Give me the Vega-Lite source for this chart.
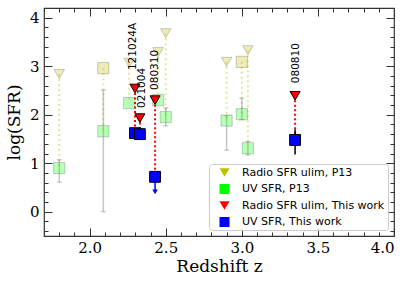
{
  "$schema": "https://vega.github.io/schema/vega-lite/v6.json",
  "autosize": {"type": "none"},
  "width": 350,
  "height": 228,
  "padding": {"left": 44, "top": 8, "right": 21, "bottom": 49},
  "config": {
    "view": {"stroke": "#333", "strokeWidth": 1.2},
    "axis": {"grid": false, "domain": false, "tickColor": "#333", "tickWidth": 1, "labelColor": "#000", "titleColor": "#000"},
    "legend": {
      "orient": "bottom-right", "offset": 6, "title": null,
      "labelFont": "DejaVu Sans", "labelFontSize": 11, "labelColor": "#000",
      "symbolOpacity": 1, "symbolStrokeWidth": 0, "symbolSize": 100,
      "padding": 3, "symbolOffset": 7, "labelOffset": 12, "rowPadding": 4.5,
      "fillColor": "rgba(255,255,255,0.8)", "strokeColor": "#cccccc", "cornerRadius": 3
    }
  },
  "datasets": {
    "p13": [
      {"z": 1.80, "radio": 2.84, "uv": 0.90, "lo": 0.61, "hi": 1.07, "det": false},
      {"z": 2.09, "radio": 2.96, "uv": 1.66, "lo": 0.0, "hi": 2.51, "det": true},
      {"z": 2.26, "radio": 3.07, "uv": 2.24, "det": false},
      {"z": 2.45, "radio": 3.29, "uv": 2.30, "det": false},
      {"z": 2.50, "radio": 3.68, "uv": 1.95, "lo": 1.77, "hi": 2.14, "det": false},
      {"z": 2.90, "radio": 3.09, "uv": 1.88, "lo": 1.27, "hi": 1.98, "det": false},
      {"z": 3.00, "radio": 3.09, "uv": 2.01, "lo": 1.90, "hi": 2.34, "det": true},
      {"z": 3.04, "radio": 3.33, "uv": 1.31, "lo": 1.17, "hi": 1.45, "det": false}
    ],
    "grb": [
      {"name": "121024A", "z": 2.298, "radio": 2.54, "uv": 1.62, "lx": 2.285, "ly": 2.92},
      {"name": "021004", "z": 2.33, "radio": 1.93, "uv": 1.60, "lx": 2.345, "ly": 2.14},
      {"name": "080310", "z": 2.43, "radio": 2.30, "uv": 0.72, "uvlim": 0.41, "lx": 2.427, "ly": 2.51},
      {"name": "080810", "z": 3.35, "radio": 2.39, "uv": 1.48, "lo": 1.18, "hi": 1.70, "lx": 3.355, "ly": 2.65}
    ]
  },
  "resolve": {"axis": {"x": "independent", "y": "independent"}},
  "layer": [
    {
      "data": {"name": "p13"},
      "mark": {"type": "rule", "color": "#bfbf00", "opacity": 0.4, "strokeWidth": 2, "strokeDash": [2, 3]},
      "encoding": {
        "x": {"field": "z", "type": "quantitative", "scale": {"domain": [1.7, 4.0], "nice": false, "zero": false},
          "axis": {"orient": "bottom", "values": [2, 2.5, 3, 3.5, 4], "format": ".1f", "ticks": false, "labelPadding": 4,
            "labelFont": "DejaVu Serif", "labelFontSize": 15, "title": "Redshift z", "titleFont": "DejaVu Serif",
            "titleFontSize": 17, "titleFontWeight": "normal", "titlePadding": 3}},
        "y": {"field": "radio", "type": "quantitative", "scale": {"domain": [-0.5, 4.2], "nice": false, "zero": false},
          "axis": {"orient": "left", "values": [0, 1, 2, 3, 4], "format": "d", "ticks": false, "labelPadding": 5,
            "labelFont": "DejaVu Serif", "labelFontSize": 15, "title": "log(SFR)", "titleFont": "DejaVu Serif",
            "titleFontSize": 17, "titleFontWeight": "normal", "titlePadding": 6}},
        "y2": {"field": "uv"}
      }
    },
    {
      "data": {"name": "p13"},
      "transform": [{"filter": "isValid(datum.lo)"}],
      "mark": {"type": "rule", "color": "#808080", "opacity": 0.45, "strokeWidth": 1.5},
      "encoding": {
        "x": {"field": "z", "type": "quantitative",
          "axis": {"orient": "bottom", "values": [2, 2.5, 3, 3.5, 4], "labels": false, "tickSize": -8, "title": null}},
        "y": {"field": "lo", "type": "quantitative",
          "axis": {"orient": "left", "values": [0, 1, 2, 3, 4], "labels": false, "tickSize": -8, "title": null}},
        "y2": {"field": "hi"}
      }
    },
    {
      "data": {"name": "p13"},
      "transform": [{"filter": "isValid(datum.lo)"}, {"fold": ["lo", "hi"], "as": ["end", "val"]}],
      "mark": {"type": "tick", "orient": "horizontal", "color": "#808080", "opacity": 0.45, "size": 5, "thickness": 1.2},
      "encoding": {
        "x": {"field": "z", "type": "quantitative",
          "axis": {"orient": "bottom", "values": [1.7, 1.8, 1.9, 2.1, 2.2, 2.3, 2.4, 2.6, 2.7, 2.8, 2.9, 3.1, 3.2, 3.3, 3.4, 3.6, 3.7, 3.8, 3.9], "labels": false, "tickSize": -4, "title": null}},
        "y": {"field": "val", "type": "quantitative",
          "axis": {"orient": "left", "values": [-0.4, -0.2, 0.2, 0.4, 0.6, 0.8, 1.2, 1.4, 1.6, 1.8, 2.2, 2.4, 2.6, 2.8, 3.2, 3.4, 3.6, 3.8], "labels": false, "tickSize": -4, "title": null}}
      }
    },
    {
      "data": {"name": "p13"},
      "mark": {"type": "point", "filled": true, "size": 125, "fillOpacity": 0.28, "stroke": "#555", "strokeOpacity": 0.3, "strokeWidth": 1},
      "encoding": {
        "x": {"field": "z", "type": "quantitative",
          "axis": {"orient": "top", "values": [2, 2.5, 3, 3.5, 4], "labels": false, "tickSize": -8, "title": null}},
        "y": {"field": "uv", "type": "quantitative",
          "axis": {"orient": "right", "values": [0, 1, 2, 3, 4], "labels": false, "tickSize": -8, "title": null}},
        "color": {"datum": "UV SFR, P13", "type": "nominal",
          "scale": {"domain": ["Radio SFR ulim, P13", "UV SFR, P13", "Radio SFR ulim, This work", "UV SFR, This work"],
            "range": ["#bfbf00", "#00ff00", "#ff0000", "#0000ff"]}},
        "shape": {"datum": "UV SFR, P13", "type": "nominal",
          "scale": {"domain": ["Radio SFR ulim, P13", "UV SFR, P13", "Radio SFR ulim, This work", "UV SFR, This work"],
            "range": ["triangle-down", "square", "triangle-down", "square"]}}
      }
    },
    {
      "data": {"name": "p13"},
      "transform": [{"filter": "datum.det"}],
      "mark": {"type": "point", "filled": true, "shape": "square", "size": 125, "color": "#bfbf00", "fillOpacity": 0.28, "stroke": "#555", "strokeOpacity": 0.3, "strokeWidth": 1},
      "encoding": {
        "x": {"field": "z", "type": "quantitative",
          "axis": {"orient": "top", "values": [1.7, 1.8, 1.9, 2.1, 2.2, 2.3, 2.4, 2.6, 2.7, 2.8, 2.9, 3.1, 3.2, 3.3, 3.4, 3.6, 3.7, 3.8, 3.9], "labels": false, "tickSize": -4, "title": null}},
        "y": {"field": "radio", "type": "quantitative",
          "axis": {"orient": "right", "values": [-0.4, -0.2, 0.2, 0.4, 0.6, 0.8, 1.2, 1.4, 1.6, 1.8, 2.2, 2.4, 2.6, 2.8, 3.2, 3.4, 3.6, 3.8], "labels": false, "tickSize": -4, "title": null}}
      }
    },
    {
      "data": {"name": "p13"},
      "transform": [{"filter": "!datum.det"}],
      "mark": {"type": "point", "filled": true, "size": 110, "fillOpacity": 0.28, "stroke": "#555", "strokeOpacity": 0.3, "strokeWidth": 1},
      "encoding": {
        "x": {"field": "z", "type": "quantitative", "axis": null},
        "y": {"field": "radio", "type": "quantitative", "axis": null},
        "color": {"datum": "Radio SFR ulim, P13", "type": "nominal"},
        "shape": {"datum": "Radio SFR ulim, P13", "type": "nominal"}
      }
    },
    {
      "data": {"name": "grb"},
      "mark": {"type": "rule", "color": "#ff0000", "strokeWidth": 2, "strokeDash": [2, 2.5]},
      "encoding": {
        "x": {"field": "z", "type": "quantitative", "axis": null},
        "y": {"field": "radio", "type": "quantitative", "axis": null},
        "y2": {"field": "uv"}
      }
    },
    {
      "data": {"name": "grb"},
      "transform": [{"filter": "isValid(datum.lo)"}],
      "mark": {"type": "rule", "color": "#000", "strokeWidth": 1.5},
      "encoding": {
        "x": {"field": "z", "type": "quantitative", "axis": null},
        "y": {"field": "lo", "type": "quantitative", "axis": null},
        "y2": {"field": "hi"}
      }
    },
    {
      "data": {"name": "grb"},
      "transform": [{"filter": "isValid(datum.uvlim)"}],
      "mark": {"type": "rule", "color": "#0000ff", "strokeWidth": 1.5},
      "encoding": {
        "x": {"field": "z", "type": "quantitative", "axis": null},
        "y": {"field": "uv", "type": "quantitative", "axis": null},
        "y2": {"field": "uvlim"}
      }
    },
    {
      "data": {"name": "grb"},
      "transform": [{"filter": "isValid(datum.uvlim)"}],
      "mark": {"type": "point", "shape": "triangle-down", "filled": true, "color": "#0000ff", "size": 30, "opacity": 1},
      "encoding": {
        "x": {"field": "z", "type": "quantitative", "axis": null},
        "y": {"field": "uvlim", "type": "quantitative", "axis": null}
      }
    },
    {
      "data": {"name": "grb"},
      "mark": {"type": "point", "filled": true, "size": 118, "opacity": 1, "stroke": "#000", "strokeWidth": 1},
      "encoding": {
        "x": {"field": "z", "type": "quantitative", "axis": null},
        "y": {"field": "uv", "type": "quantitative", "axis": null},
        "color": {"datum": "UV SFR, This work", "type": "nominal"},
        "shape": {"datum": "UV SFR, This work", "type": "nominal"}
      }
    },
    {
      "data": {"name": "grb"},
      "mark": {"type": "point", "filled": true, "size": 100, "opacity": 1, "stroke": "#000", "strokeWidth": 1},
      "encoding": {
        "x": {"field": "z", "type": "quantitative", "axis": null},
        "y": {"field": "radio", "type": "quantitative", "axis": null},
        "color": {"datum": "Radio SFR ulim, This work", "type": "nominal"},
        "shape": {"datum": "Radio SFR ulim, This work", "type": "nominal"}
      }
    },
    {
      "data": {"name": "grb"},
      "mark": {"type": "text", "angle": 270, "align": "left", "baseline": "middle", "font": "DejaVu Sans", "fontSize": 10.5, "color": "#000"},
      "encoding": {
        "x": {"field": "lx", "type": "quantitative", "axis": null},
        "y": {"field": "ly", "type": "quantitative", "axis": null},
        "text": {"field": "name"}
      }
    }
  ]
}
